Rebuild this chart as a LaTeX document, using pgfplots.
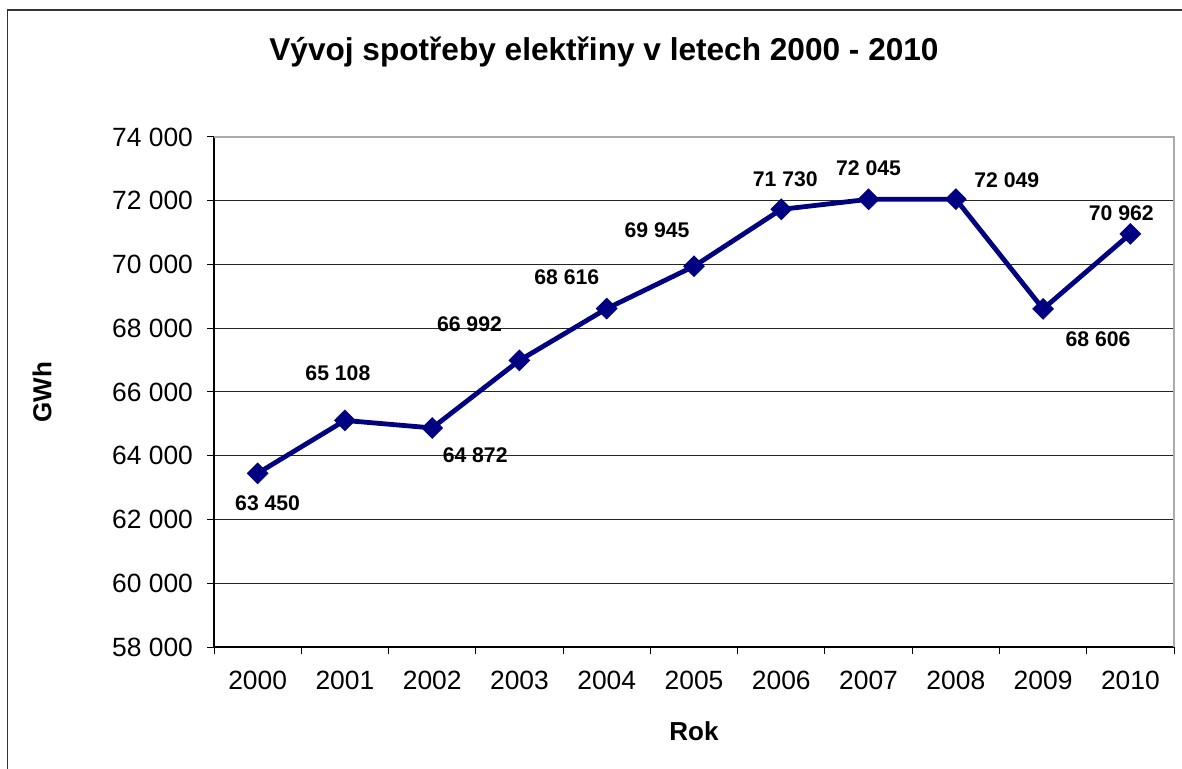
\documentclass[border=0pt]{standalone}
\usepackage{pgfplots}
\pgfplotsset{compat=1.18}
\usepackage{fontspec}
\setmainfont{Liberation Sans}
\definecolor{navyline}{RGB}{0,0,128}
\definecolor{bordergray}{RGB}{170,170,170}
\begin{document}
\begin{tikzpicture}
\path[use as bounding box] (0,0) rectangle (591pt,-384.5pt);
\draw[line width=0.6pt, black!80] (3.75pt,-384.5pt) -- (3.75pt,-5pt) -- (591pt,-5pt);
\begin{axis}[
  at={(107pt,-323.5pt)}, anchor=south west,
  scale only axis, width=480pt, height=255pt,
  xmin=0, xmax=11, ymin=58000, ymax=74000,
  scaled y ticks=false,
  xtick={0.5,1.5,...,10.5},
  xticklabels={2000,2001,2002,2003,2004,2005,2006,2007,2008,2009,2010},
  minor xtick={0,1,...,11},
  major x tick style={draw=none},
  minor tick length=3.5pt,
  major tick length=3.5pt,
  tick align=outside,
  ytick={58000,60000,...,74000},
  yticklabels={58 000,60 000,62 000,64 000,66 000,68 000,70 000,72 000,74 000},
  ymajorgrids, grid style={black!85, line width=0.5pt},
  tick style={black, line width=0.5pt},
  axis x line*=bottom, axis y line*=left,
  x axis line style={-, line width=0.6pt},
  y axis line style={-, line width=0.6pt},
  ticklabel style={font=\fontsize{13.2}{15}\selectfont},
  yticklabel style={xshift=-3.5pt},
  xticklabel style={yshift=-5pt},
  clip=false,
]
\draw[bordergray, line width=0.8pt] (axis cs:0,74000) -- (axis cs:11,74000) -- (axis cs:11,58000);
\addplot[navyline, line width=2.4pt, mark=square*, mark size=3.6pt, mark options={rotate=45, solid, fill=navyline, line width=0.5pt}]
  table {
x y
0.5 63450
1.5 65108
2.5 64872
3.5 66992
4.5 68616
5.5 69945
6.5 71730
7.5 72045
8.5 72049
9.5 68606
10.5 70962
};
\begin{scope}[every node/.style={font=\bfseries\fontsize{10.6}{12}\selectfont}]
\node[xshift=5pt, yshift=-15pt] at (axis cs:0.5,63450) {63 450};
\node[xshift=-3.5pt, yshift=23.5pt] at (axis cs:1.5,65108) {65 108};
\node[xshift=21.5pt, yshift=-13.5pt] at (axis cs:2.5,64872) {64 872};
\node[xshift=-25pt, yshift=18pt] at (axis cs:3.5,66992) {66 992};
\node[xshift=-20pt, yshift=15.5pt] at (axis cs:4.5,68616) {68 616};
\node[xshift=-18.5pt, yshift=18pt] at (axis cs:5.5,69945) {69 945};
\node[xshift=2pt, yshift=15pt] at (axis cs:6.5,71730) {71 730};
\node[xshift=0pt, yshift=15.5pt] at (axis cs:7.5,72045) {72 045};
\node[xshift=25.5pt, yshift=9.5pt] at (axis cs:8.5,72049) {72 049};
\node[xshift=27.5pt, yshift=-15pt] at (axis cs:9.5,68606) {68 606};
\node[xshift=-4.5pt, yshift=10.5pt] at (axis cs:10.5,70962) {70 962};
\end{scope}
\end{axis}
\node[font=\bfseries\fontsize{15.8}{18}\selectfont] at (302pt,-26pt) {Vývoj spotřeby elektřiny v letech 2000 - 2010};
\node[font=\bfseries\fontsize{13}{15}\selectfont] at (347pt,-365.5pt) {Rok};
\node[font=\bfseries\fontsize{13}{15}\selectfont, rotate=90] at (21pt,-196pt) {GWh};
\end{tikzpicture}
\end{document}
